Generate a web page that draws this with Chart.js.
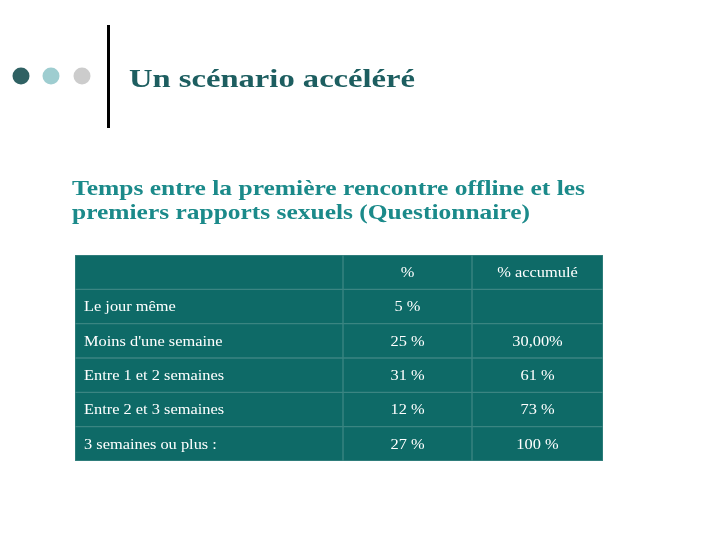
<!DOCTYPE html>
<html><head><meta charset="utf-8">
<script src="https://cdn.jsdelivr.net/npm/chart.js@4"></script>
<style>html,body{margin:0;padding:0;background:#fff}#w{width:728px;height:546px}</style>
</head><body><div id="w"><canvas id="c"></canvas></div>
<script>
const rowLabels = ["", "Le jour même", "Moins d'une semaine", "Entre 1 et 2 semaines", "Entre 2 et 3 semaines", "3 semaines ou plus :"];
const pctValues = ["%", "5 %", "25 %", "31 %", "12 %", "27 %"];
const cumValues = ["% accumulé", "", "30,00%", "61 %", "73 %", "100 %"];
const colEdges = [0, 268, 397, 528];

const teal = '#0E6A67', line = '#3B8582';
const datasets = [0,1,2].map(c => ({
  data: rowLabels.map(() => [colEdges[c], colEdges[c+1]]),
  backgroundColor: teal, borderColor: line, borderWidth: 1, borderSkipped: false,
  barPercentage: 1, categoryPercentage: 1
}));
const serif = '"Liberation Serif", "DejaVu Serif", serif';
function fitText(g, s, x, y, w) {
  const m = g.measureText(s).width;
  g.save(); g.translate(x, y); g.scale(w / m, 1); g.fillText(s, 0, 0); g.restore();
}
function wideText(g, s, x, y, f, align) {
  const m = g.measureText(s).width * f;
  const x0 = align === 'center' ? x - m / 2 : x;
  g.save(); g.textAlign = 'left'; g.translate(x0, y); g.scale(f, 1); g.fillText(s, 0, 0); g.restore();
}
const deco = {
  id: 'deco',
  beforeDraw(ch) {
    const g = ch.ctx; g.save();
    [['#2F6163',21],['#9ECDD0',51],['#CCCCCC',82]].forEach(([col,x]) => {
      g.fillStyle = col; g.beginPath(); g.arc(x,76,8.5,0,Math.PI*2); g.fill();
    });
    g.fillStyle = '#000'; g.fillRect(107,25,3,103);
    g.fillStyle = '#1D5E60'; g.font = 'bold 26px ' + serif; g.textBaseline = 'alphabetic';
    fitText(g, 'Un scénario accéléré', 129, 87, 286);
    g.fillStyle = '#1B8A8A'; g.font = 'bold 21px ' + serif;
    fitText(g, 'Temps entre la première rencontre offline et les', 72, 195, 513);
    fitText(g, 'premiers rapports sexuels (Questionnaire)', 72, 219, 458);
    g.restore();
  },
  afterDatasetsDraw(ch) {
    const g = ch.ctx, xs = ch.scales.x, ys = ch.scales.y;
    g.save(); g.fillStyle = '#fff'; g.font = '14px ' + serif; g.textBaseline = 'middle';
    const f = 1.17;
    rowLabels.forEach((lab, i) => {
      const y = ys.getPixelForValue(i) + 1;
      wideText(g, lab, xs.getPixelForValue(colEdges[0]) + 9, y, f, 'left');
      wideText(g, pctValues[i], xs.getPixelForValue((colEdges[1]+colEdges[2])/2), y, f, 'center');
      wideText(g, cumValues[i], xs.getPixelForValue((colEdges[2]+colEdges[3])/2), y, f, 'center');
    });
    g.restore();
  }
};
new Chart(document.getElementById('c'), {
  type: 'bar',
  data: { labels: rowLabels.map((l,i)=>'r'+i), datasets },
  options: {
    indexAxis: 'y', responsive: true, maintainAspectRatio: false, animation: false,
    layout: { padding: { left: 75, right: 125, top: 255, bottom: 85 } },
    scales: { x: { display: false, min: 0, max: 528 }, y: { display: false, stacked: true } },
    plugins: { legend: { display: false }, tooltip: { enabled: false } }
  },
  plugins: [deco]
});
</script></body></html>
